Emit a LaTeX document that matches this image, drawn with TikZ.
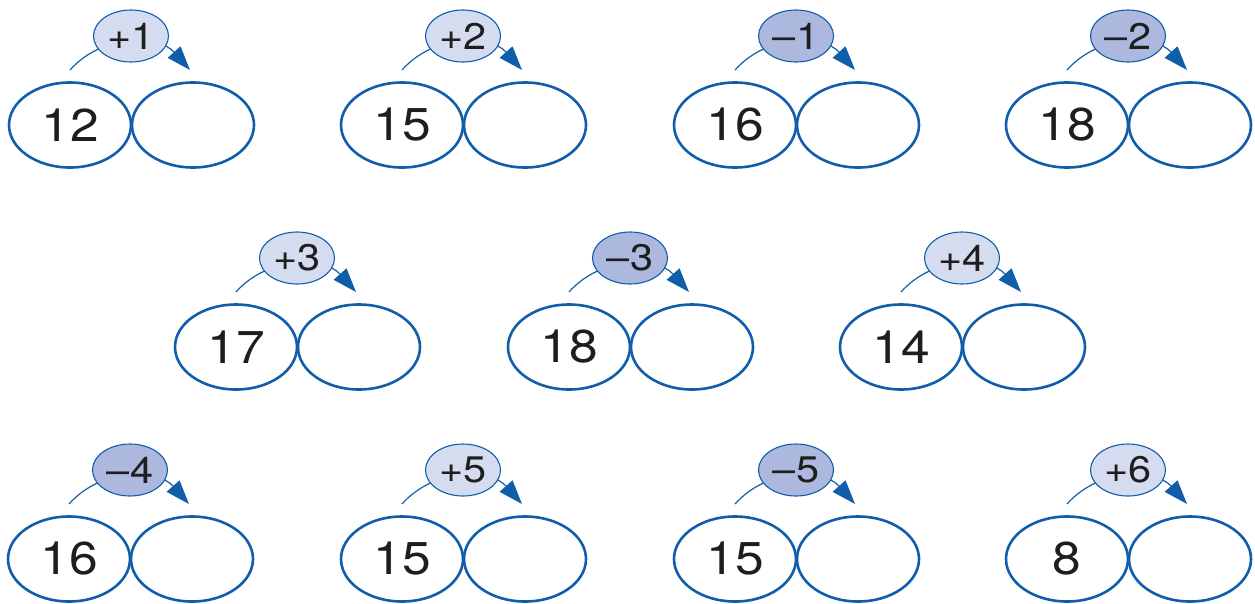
\documentclass[tikz,border=0pt]{standalone}
\usepackage{fontspec}
\setmainfont{TeX Gyre Heros}[FakeStretch=1.12]
\usetikzlibrary{shapes.geometric,arrows.meta}
\definecolor{ringblue}{RGB}{16,94,170}
\definecolor{oplight}{RGB}{214,220,240}
\definecolor{opdark}{RGB}{172,184,222}
\definecolor{numink}{RGB}{30,30,30}
\tikzset{
  numring/.style={ellipse,draw=ringblue,line width=2.6pt,minimum width=122pt,minimum height=85pt,inner sep=0pt,
    font=\fontsize{46}{48}\selectfont,text=numink},
  opring/.style={ellipse,draw=ringblue,line width=1.1pt,minimum width=75pt,minimum height=52pt,inner sep=0pt,
    font=\fontsize{37}{40}\selectfont,text=numink},
  hop/.style={draw=ringblue,line width=1.2pt,-{Triangle[length=24pt,width=17pt]}}
}
\newcommand{\hopunit}[6]{%
  \node[numring] (#1a) at (#2,#3) {#4};
  \node[numring] (#1b) at (#2+123,#3) {};
  \coordinate (#1s) at (#2,#3-55);
  \coordinate (#1e) at (#2+120,#3-55);
  \draw[hop] (#1s) .. controls +(32,-36) and +(-32,-36) .. (#1e);
  \node[opring,fill=#6] (#1o) at (#2+61,#3-89) {#5};
}
\begin{document}
\begin{tikzpicture}[x=1pt,y=-1pt]
\useasboundingbox (0,0) rectangle (1255,603);
\clip (0,0) rectangle (1255,603);
\hopunit{p}{70}{125}{12}{+1}{oplight}
\hopunit{q}{402}{125}{15}{+2}{oplight}
\hopunit{r}{735}{125}{16}{–1}{opdark}
\hopunit{s}{1067}{125}{18}{–2}{opdark}
\hopunit{t}{236}{347}{17}{+3}{oplight}
\hopunit{u}{569}{347}{18}{–3}{opdark}
\hopunit{v}{901}{347}{14}{+4}{oplight}
\hopunit{w}{69}{559}{16}{–4}{opdark}
\hopunit{x}{402}{559}{15}{+5}{oplight}
\hopunit{y}{735}{559}{15}{–5}{opdark}
\hopunit{z}{1067}{559}{8}{+6}{oplight}
\end{tikzpicture}
\end{document}
